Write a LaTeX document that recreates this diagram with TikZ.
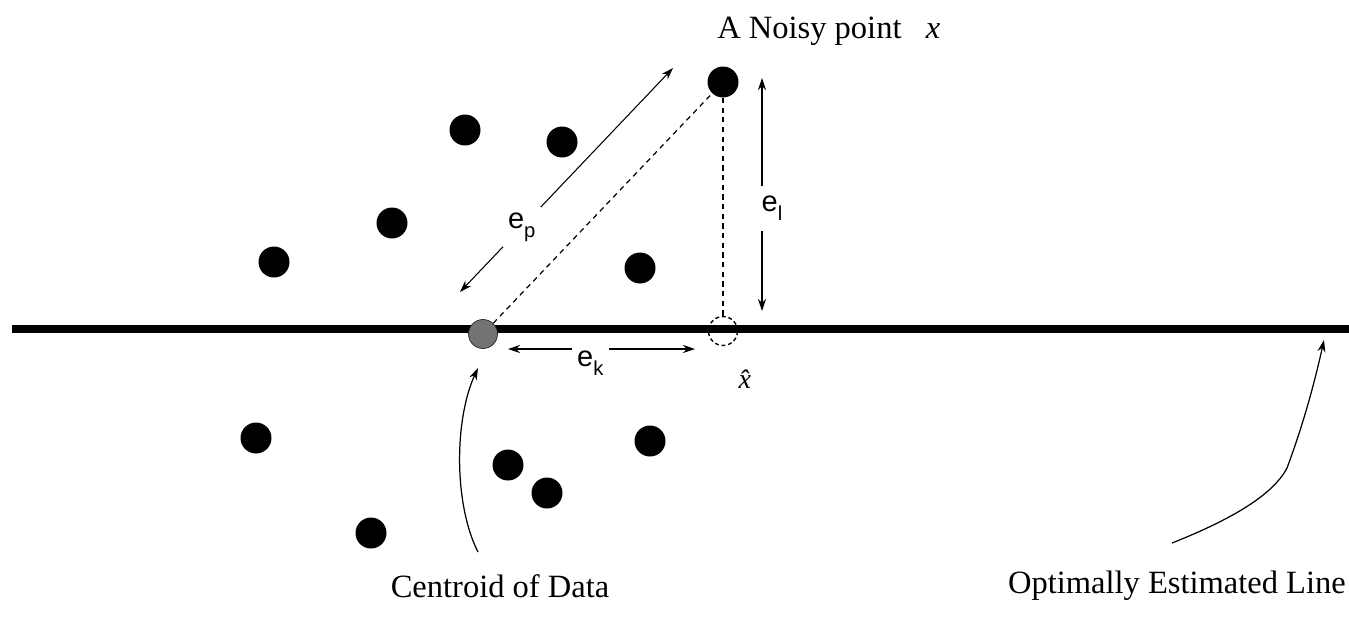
\documentclass[tikz,border=0pt]{standalone}
\usepackage{fontspec}
\setmainfont{Liberation Serif}
\newfontfamily\lblfont{Liberation Sans}
\usetikzlibrary{arrows.meta}
\tikzset{
  datapt/.style={circle, fill=black, minimum size=0.62cm, inner sep=0pt},
  centpt/.style={circle, fill=black!55, draw=black!85, thin,
    minimum size=0.58cm, inner sep=0pt},
  projpt/.style={circle, draw=black, line width=0.8pt,
    dash pattern=on 2.2pt off 1.6pt, minimum size=0.58cm, inner sep=0pt},
  estline/.style={line width=5pt},
  dashln/.style={line width=0.7pt, dash pattern=on 3pt off 2.5pt},
  dimarr/.style={{Stealth[length=2.4mm,width=1.6mm]}-{Stealth[length=2.4mm,width=1.6mm]},
    line width=0.6pt},
  callarr/.style={-{Stealth[length=2.4mm,width=1.6mm]}, line width=0.7pt},
  txt/.style={font=\fontsize{18.5}{22}\selectfont, inner sep=0pt},
  dimlbl/.style={font=\lblfont\fontsize{16.5}{18}\selectfont, fill=white, inner sep=3pt},
}
\newcommand{\dimtxt}[1]{e\raisebox{-5pt}{\fontsize{11.5}{12}\selectfont #1}}

\begin{document}
\begin{tikzpicture}[x=0.02cm, y=-0.02cm]
\useasboundingbox (0,0) rectangle (1349,616);

% ---------------- ESTIMATED LINE ----------------
\coordinate (line-l) at (12,329);
\coordinate (line-r) at (1349,329);
\draw[estline] (line-l) -- (line-r);

% ---------------- DATA POINTS ----------------
\node[datapt] (p-noisy) at (723,82) {};
\foreach \x/\y [count=\i] in {465/130, 562/142, 392/223, 274/262, 640/268,
                              256/438, 650/441, 508/465, 547/493, 371/533}
  \node[datapt] (p-\i) at (\x,\y) {};

% centroid and projection of the noisy point
\node[centpt] (p-cent) at (483,334) {};
\node[projpt] (p-proj) at (723,331) {};

\draw[dashln] (p-cent)  -- (p-noisy);
\draw[dashln] (p-noisy) -- (p-proj);

% ---------------- ERRORS ----------------
\coordinate (ep-a) at (460,292);
\coordinate (ep-b) at (673,68);
\draw[dimarr] (ep-a) -- node[dimlbl, pos=0.29] {\dimtxt{p}} (ep-b);

\coordinate (el-a) at (762,78);
\coordinate (el-b) at (762,311);
\draw[dimarr] (el-a) -- node[dimlbl, pos=0.56, xshift=0.2cm, inner ysep=6pt] {\dimtxt{l}} (el-b);

\coordinate (ek-a) at (508,349);
\coordinate (ek-b) at (695,349);
\draw[dimarr] (ek-a) -- node[dimlbl, pos=0.44, yshift=-0.28cm] {\dimtxt{k}} (ek-b);

\node[font=\fontsize{16}{16}\selectfont, inner sep=0pt, anchor=base] (l-xhat) at (750,388) {\textit{\^{x}}};

% ---------------- LABELS ----------------
\node[txt, anchor=base west] (l-noisy) at (717,38) {A Noisy point\hspace{0.75em}\textit{x}};
\node[txt, anchor=base] (l-cent) at (500,597) {Centroid of Data};
\node[txt, anchor=base east] (l-line) at (1346,593) {Optimally Estimated Line};

% ---- callouts ----
\coordinate (cen-tail) at (478,552);
\coordinate (cen-head) at (478,368);
\draw[callarr] (cen-tail) .. controls (454,505) and (454,420) .. (cen-head);

\coordinate (line-tail) at (1172,543);
\coordinate (line-kink) at (1287,468);
\coordinate (line-head) at (1324,340);
\draw[callarr] (line-tail) .. controls (1225,522) and (1272,497) .. (line-kink)
  .. controls (1303,425) and (1314,385) .. (line-head);

\end{tikzpicture}
\end{document}
